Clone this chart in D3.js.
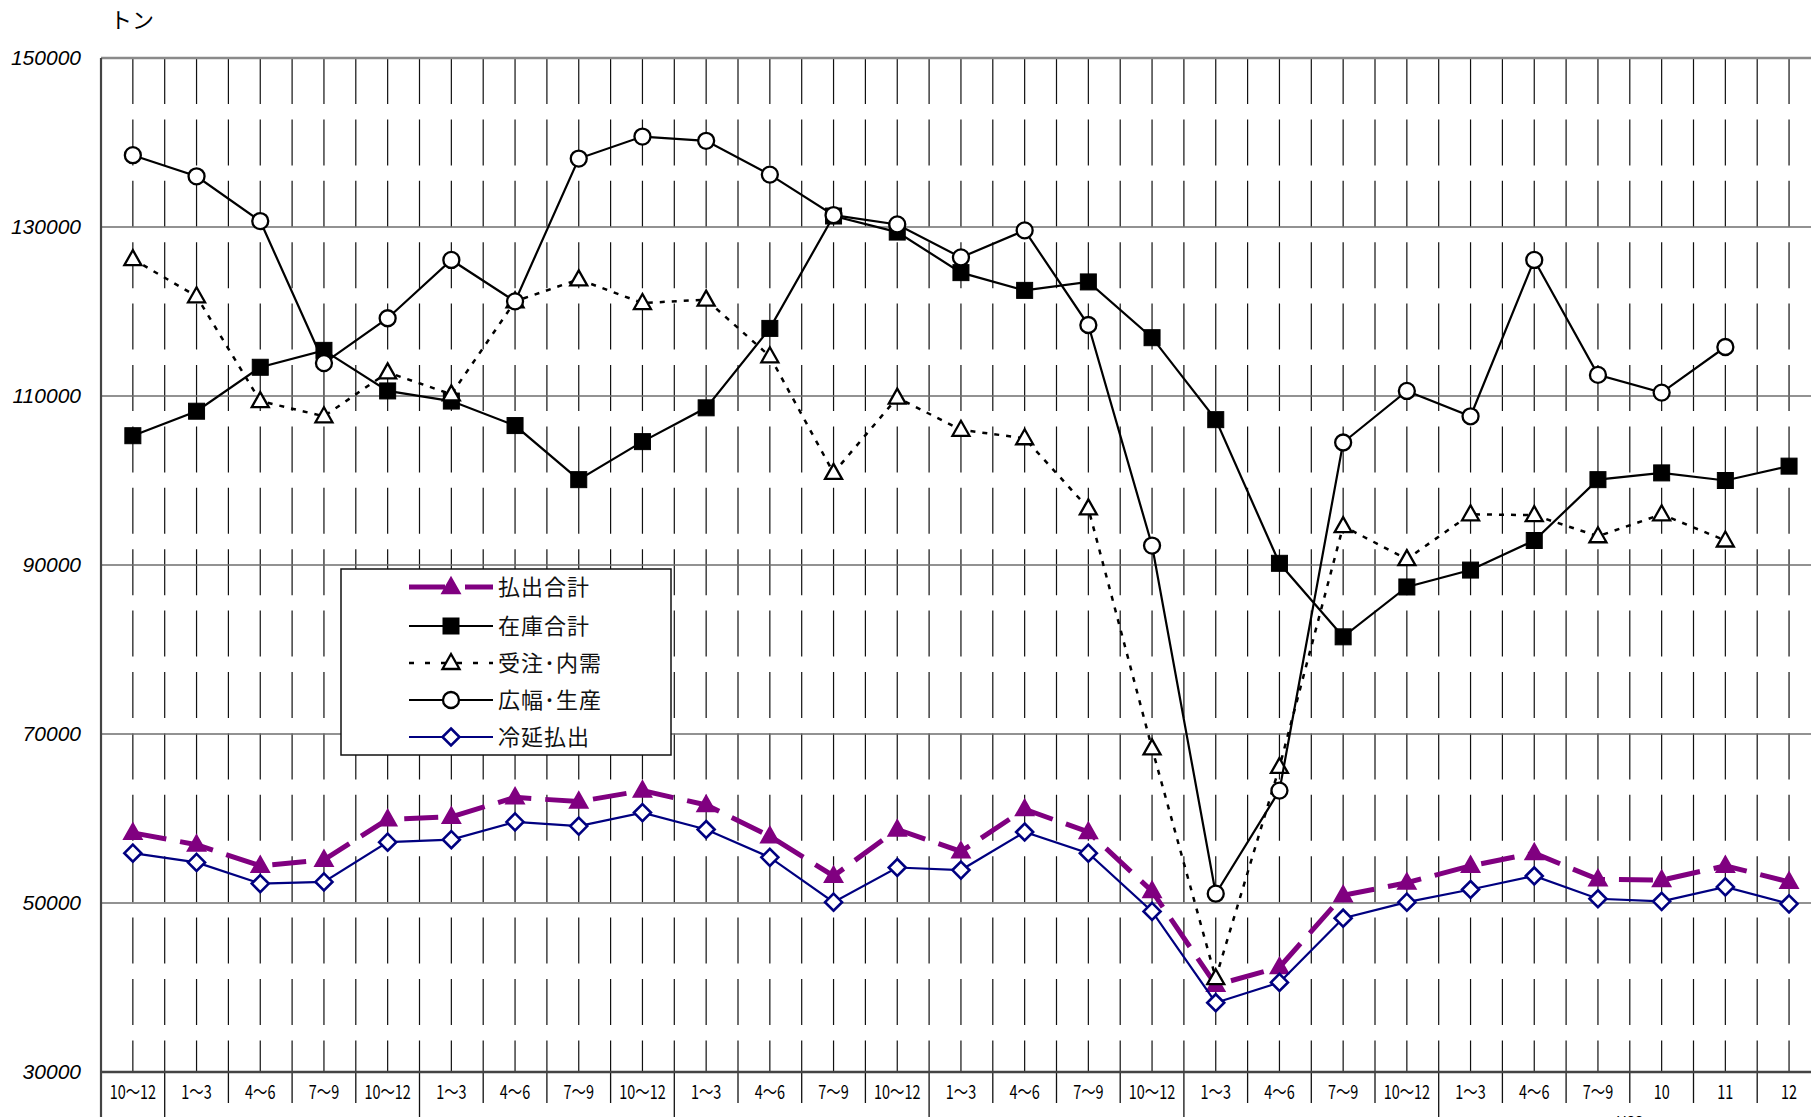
<!DOCTYPE html>
<html>
<head>
<meta charset="utf-8">
<script src="https://cdn.jsdelivr.net/npm/d3@7/dist/d3.min.js"></script>
<style>
  body { margin: 0; background: #fff; }
</style>
</head>
<body>
<div id="chart"></div>
<script>
// quarterly (later monthly) periods
var categories = ["10～12", "1～3", "4～6", "7～9", "10～12", "1～3", "4～6", "7～9",
  "10～12", "1～3", "4～6", "7～9", "10～12", "1～3", "4～6", "7～9",
  "10～12", "1～3", "4～6", "7～9", "10～12", "1～3", "4～6", "7～9", "10", "11", "12"];

// series values (tons)
var haraidashi = [58300, 56900, 54400, 55100, 59900, 60200, 62500, 62000, 63300, 61600, 57900, 53200,
  58700, 56100, 61100, 58400, 51400, 40300, 42400, 50900, 52400, 54400, 55900, 52800, 52700, 54400, 52500];
var zaiko = [105300, 108200, 113400, 115400, 110600, 109400, 106500, 100100, 104600, 108600, 118000, 131300,
  129400, 124600, 122500, 123500, 116900, 107200, 90200, 81500, 87400, 89400, 92900, 100100, 100900, 100000, 101700];
var juchu = [126200, 121800, 109400, 107600, 112800, 110200, 121200, 123800, 121000, 121400, 114700, 100900,
  109800, 106000, 105000, 96700, 68300, 41100, 66100, 94600, 90700, 96000, 95900, 93400, 96000, 92900, null];
var kohaba = [138500, 136000, 130700, 113900, 119200, 126100, 121200, 138100, 140700, 140200, 136200, 131400,
  130300, 126400, 129600, 118400, 92300, 51100, 63300, 104500, 110600, 107600, 126100, 112500, 110400, 115800, null];
var reien = [55900, 54800, 52300, 52500, 57200, 57500, 59600, 59100, 60700, 58700, 55400, 50100,
  54200, 53900, 58400, 55900, 49000, 38200, 40600, 48200, 50100, 51600, 53200, 50500, 50200, 51900, 49900];

var yTicks = [30000, 50000, 70000, 90000, 110000, 130000, 150000];
var yearBreaks = [0, 1, 5, 9, 13, 17, 21];
var yearLabels = [{ text: "H22", from: 21, to: 27 }];

var legendNames = ["払出合計", "在庫合計", "受注･内需", "広幅･生産", "冷延払出"];

var svgWidth = 1811;
var svgHeight = 1117;
var plotLeft = 101, plotTop = 58, plotBottom = 1072;
var catWidth = 63.7;

var svg = d3.select("#chart")
  .append("svg")
  .attr("width", svgWidth)
  .attr("height", svgHeight);

var x = d3.scaleBand()
  .domain(d3.range(categories.length))
  .range([plotLeft, plotLeft + catWidth * categories.length]);

var y = d3.scaleLinear()
  .domain([30000, 150000])
  .range([plotBottom, plotTop]);

function cx(i) { return x(i) + x.bandwidth() / 2; }

// vertical broken grid lines (boundaries and centers)
var grid = svg.append("g");
d3.range(categories.length).forEach(function(i) {
  [x(i), cx(i)].forEach(function(px, k) {
    if (i === 0 && k === 0) return;
    grid.append("line")
      .attr("x1", px).attr("x2", px)
      .attr("y1", plotTop).attr("y2", plotBottom)
      .attr("stroke", "#111")
      .attr("stroke-width", 1.2)
      .attr("stroke-dasharray", "46,15.4");
  });
});

// horizontal grid lines
yTicks.slice(1).forEach(function(t) {
  grid.append("line")
    .attr("x1", plotLeft).attr("x2", svgWidth)
    .attr("y1", y(t)).attr("y2", y(t))
    .attr("stroke", t === 150000 ? "#8a8a8a" : "#6e6e6e")
    .attr("stroke-width", t === 150000 ? 2.5 : 1.3);
});

// category separators below the axis
d3.range(1, categories.length).forEach(function(i) {
  svg.append("line")
    .attr("x1", x(i)).attr("x2", x(i))
    .attr("y1", plotBottom).attr("y2", yearBreaks.indexOf(i) >= 0 ? svgHeight : 1103)
    .attr("stroke", "#111").attr("stroke-width", 1.3);
});

// axes lines
svg.append("line")
  .attr("x1", plotLeft).attr("x2", plotLeft)
  .attr("y1", plotTop).attr("y2", svgHeight)
  .attr("stroke", "#444").attr("stroke-width", 2.2);
svg.append("line")
  .attr("x1", plotLeft).attr("x2", svgWidth)
  .attr("y1", plotBottom).attr("y2", plotBottom)
  .attr("stroke", "#444").attr("stroke-width", 2.5);

// y axis labels
var leftAxis = d3.axisLeft(y).tickValues(yTicks).tickSize(0).tickPadding(20).tickFormat(d3.format("d"));
var yAxisG = svg.append("g")
  .attr("transform", "translate(" + plotLeft + ",0)")
  .call(leftAxis);
yAxisG.select(".domain").remove();
yAxisG.selectAll("text")
  .attr("font-family", "Liberation Sans, Arial, sans-serif")
  .attr("font-style", "italic")
  .attr("font-size", "21px")
  .attr("fill", "#000");

// unit label
svg.append("text")
  .attr("x", 110).attr("y", 28)
  .attr("font-family", "Noto Sans CJK JP, sans-serif")
  .attr("font-size", "22px")
  .text("トン");

// x labels
svg.append("g").selectAll("text")
  .data(categories)
  .enter()
  .append("text")
  .attr("transform", function(d, i) { return "translate(" + cx(i) + ",1099) scale(0.76,1)"; })
  .attr("text-anchor", "middle")
  .attr("font-family", "Noto Sans CJK JP, sans-serif")
  .attr("font-size", "19px")
  .text(function(d) { return d; });

// year labels (cut off at the bottom, as in the source)
yearLabels.forEach(function(yl) {
  svg.append("text")
    .attr("x", (x(yl.from) + plotLeft + catWidth * yl.to) / 2)
    .attr("y", 1127)
    .attr("text-anchor", "middle")
    .attr("font-family", "Noto Sans CJK JP, sans-serif")
    .attr("font-size", "15px")
    .text(yl.text);
});

// marker shapes
var triPath = "M0,-9L8.5,6L-8.5,6Z";
var diaPath = "M0,-8.5L8.5,0L0,8.5L-8.5,0Z";

var series = [
  { values: haraidashi, color: "#800080", width: 5, dash: "34,14", legendDash: "36,20,40", marker: "tri", fill: "#800080", mstroke: "#800080" },
  { values: zaiko, color: "#000", width: 2.2, dash: null, legendDash: null, marker: "square", fill: "#000", mstroke: "#000" },
  { values: juchu, color: "#000", width: 2.5, dash: "5,7", legendDash: "5,11", marker: "tri", fill: "#fff", mstroke: "#000" },
  { values: kohaba, color: "#000", width: 2.2, dash: null, legendDash: null, marker: "circle", fill: "#fff", mstroke: "#000" },
  { values: reien, color: "#000080", width: 2.2, dash: null, legendDash: null, marker: "diamond", fill: "#fff", mstroke: "#000080" }
];

var line = d3.line()
  .defined(function(d) { return d != null; })
  .x(function(d, i) { return cx(i); })
  .y(function(d) { return y(d); });

function drawMarker(g, s, px, py) {
  if (s.marker === "circle") {
    g.append("circle").attr("cx", px).attr("cy", py).attr("r", 8)
      .attr("fill", s.fill).attr("stroke", s.mstroke).attr("stroke-width", 2.3);
  } else if (s.marker === "square") {
    g.append("rect").attr("x", px - 8).attr("y", py - 8).attr("width", 16).attr("height", 16)
      .attr("fill", s.fill).attr("stroke", s.mstroke).attr("stroke-width", 1);
  } else {
    g.append("path").attr("d", s.marker === "tri" ? triPath : diaPath)
      .attr("transform", "translate(" + px + "," + py + ")")
      .attr("fill", s.fill).attr("stroke", s.mstroke)
      .attr("stroke-width", s.marker === "diamond" ? 2.6 : 2.3)
      .attr("stroke-linejoin", "miter");
  }
}

series.forEach(function(s) {
  var g = svg.append("g");
  g.append("path")
    .datum(s.values)
    .attr("d", line)
    .attr("fill", "none")
    .attr("stroke", s.color)
    .attr("stroke-width", s.width)
    .attr("stroke-dasharray", s.dash);
  s.values.forEach(function(v, i) {
    if (v == null) return;
    drawMarker(g, s, cx(i), y(v));
  });
});

// legend
var legend = svg.append("g");
legend.append("rect")
  .attr("x", 341).attr("y", 569).attr("width", 330).attr("height", 186)
  .attr("fill", "#fff").attr("stroke", "#111").attr("stroke-width", 1.5);
var legendRows = [587, 626, 663, 700, 737];
series.forEach(function(s, k) {
  var ly = legendRows[k];
  legend.append("line")
    .attr("x1", 409).attr("x2", 493).attr("y1", ly).attr("y2", ly)
    .attr("stroke", s.color).attr("stroke-width", s.width)
    .attr("stroke-dasharray", s.legendDash);
  drawMarker(legend, s, 451, ly);
  legend.append("text")
    .attr("x", 498).attr("y", ly).attr("dy", "0.36em")
    .attr("font-family", "Noto Sans CJK JP, sans-serif")
    .attr("font-size", "22px")
    .attr("letter-spacing", "1px")
    .attr("fill", "#111")
    .text(legendNames[k]);
});
</script>
</body>
</html>
